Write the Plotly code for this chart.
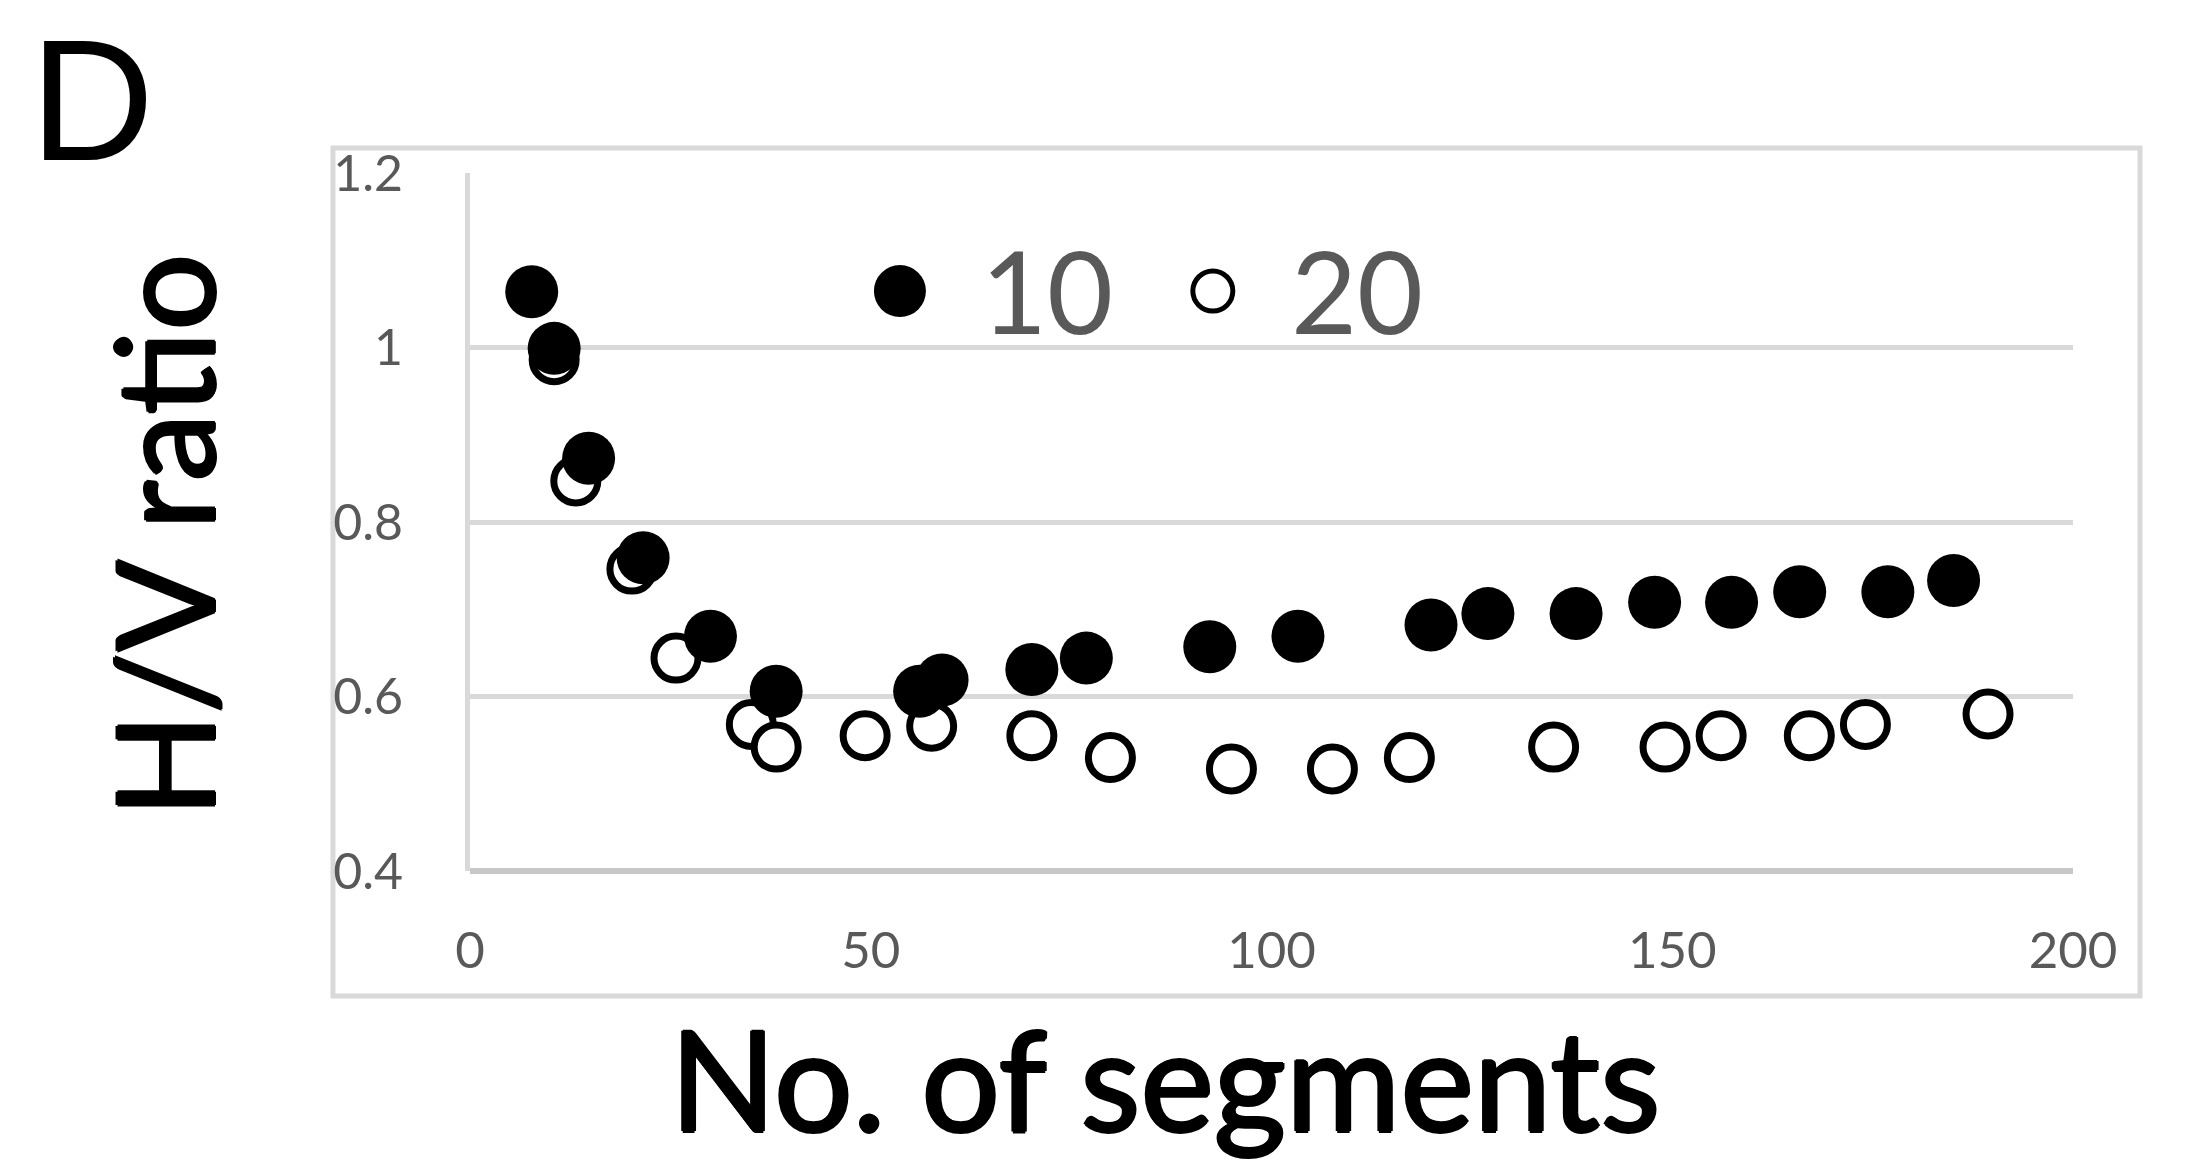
import plotly.graph_objects as go

# ---- data ----
seg_10 = [7.7, 10.5, 14.8, 21.6, 30.0, 38.2, 56.1, 58.9, 70.1, 76.9,
          92.3, 103.3, 119.9, 127.0, 138.0, 147.8, 157.4, 165.9, 176.9, 185.1]
hv_10 = [1.064, 0.999, 0.873, 0.759, 0.669, 0.606, 0.606, 0.619, 0.631, 0.644,
         0.657, 0.669, 0.682, 0.695, 0.695, 0.708, 0.708, 0.720, 0.720, 0.733]

seg_20 = [10.5, 13.2, 20.2, 25.7, 35.1, 38.2, 49.3, 57.6, 70.1, 79.9,
          95.0, 107.6, 117.2, 135.2, 149.1, 156.1, 167.1, 174.1, 189.4]
hv_20 = [0.986, 0.847, 0.746, 0.644, 0.568, 0.542, 0.555, 0.566, 0.555, 0.530,
         0.517, 0.517, 0.530, 0.542, 0.542, 0.555, 0.555, 0.568, 0.580]

x_ticks = [0, 50, 100, 150, 200]
y_ticks = [0.4, 0.6, 0.8, 1.0, 1.2]
y_tick_text = ["0.4", "0.6", "0.8", "1", "1.2"]
series_names = ["10", "20"]

FONT = "Lato"
GRID = "#d9d9d9"
TXT = "#595959"
THICK = "1.5px 0 0 black, -1.5px 0 0 black, 0 1.5px 0 black, 0 -1.5px 0 black"

fig = go.Figure()
fig.add_trace(go.Scatter(
    x=seg_20, y=hv_20, mode="markers", name=series_names[1], showlegend=False,
    marker=dict(size=44, color="white", line=dict(color="black", width=7)),
))
fig.add_trace(go.Scatter(
    x=seg_10, y=hv_10, mode="markers", name=series_names[0], showlegend=False,
    marker=dict(size=53, color="black", line=dict(width=0)),
))

fig.update_layout(
    width=2193, height=1161,
    margin=dict(l=470, r=120, t=173, b=290, autoexpand=False),
    paper_bgcolor="white", plot_bgcolor="white",
    font=dict(family=FONT, color=TXT),
    xaxis=dict(
        range=[0, 200], tickvals=x_ticks, ticktext=[str(v) for v in x_ticks],
        showgrid=False, zeroline=False, showline=False,
        ticks="", ticklabelstandoff=45,
        tickfont=dict(size=51, color=TXT, family=FONT),
        fixedrange=True,
    ),
    yaxis=dict(
        range=[0.4, 1.2], tickvals=y_ticks, ticktext=y_tick_text,
        showgrid=True, gridcolor=GRID, gridwidth=5,
        zeroline=False, showline=True, linecolor=GRID, linewidth=5,
        ticks="", ticklabelstandoff=52,
        tickfont=dict(size=50, color=TXT, family=FONT),
        fixedrange=True,
    ),
    showlegend=False,
)

# bottom axis line (slightly darker)
fig.add_shape(type="line", xref="paper", yref="paper", x0=0, x1=1, y0=0, y1=0,
              line=dict(color="#c8c8c8", width=6), layer="below")
# outer chart border
fig.add_shape(type="rect", xref="paper", yref="paper",
              x0=-0.0855, x1=1.0418, y0=-0.179, y1=1.0358,
              line=dict(color=GRID, width=5), layer="below")

# legend (drawn manually so its symbols match the marker size)
fig.add_shape(type="circle", xref="paper", yref="paper",
              xsizemode="pixel", ysizemode="pixel",
              xanchor=0.2682, yanchor=0.8309, x0=-26, x1=26, y0=-26, y1=26,
              fillcolor="black", line=dict(width=0))
fig.add_shape(type="circle", xref="paper", yref="paper",
              xsizemode="pixel", ysizemode="pixel",
              xanchor=0.4634, yanchor=0.8309, x0=-20, x1=20, y0=-20, y1=20,
              fillcolor="white", line=dict(color="black", width=5))
fig.add_annotation(text=series_names[0], xref="paper", yref="paper",
                   x=(1047 - 470) / 1603, y=0.833, xanchor="center", yanchor="middle",
                   showarrow=False, font=dict(size=114, color=TXT, family=FONT))
fig.add_annotation(text=series_names[1], xref="paper", yref="paper",
                   x=(1357 - 470) / 1603, y=0.833, xanchor="center", yanchor="middle",
                   showarrow=False, font=dict(size=114, color=TXT, family=FONT))

# axis titles and panel letter
fig.add_annotation(text="No. of segments", xref="paper", yref="paper",
                   x=0.4336, y=-0.2955, xanchor="center", yanchor="middle",
                   showarrow=False,
                   font=dict(size=139, color="black", family=FONT, shadow=THICK))
fig.add_annotation(text="H/V ratio", xref="paper", yref="paper", textangle=-90,
                   x=-0.1921, y=0.4806, xanchor="center", yanchor="middle",
                   showarrow=False,
                   font=dict(size=136, color="black", family=FONT, shadow=THICK))
fig.add_annotation(text="D", xref="paper", yref="paper",
                   x=-0.2358, y=1.245, xanchor="center", yanchor="top",
                   showarrow=False,
                   font=dict(size=172, color="black", family="Liberation Sans"))

fig.write_html("out.html")
